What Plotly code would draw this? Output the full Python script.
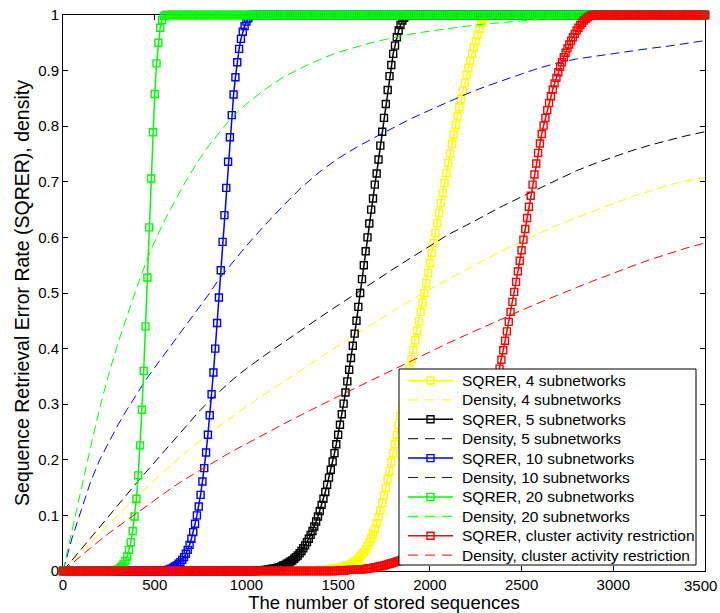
import plotly.graph_objects as go

# ---- data -------------------------------------------------------------------
# SQRER curves are sampled every 10 stored sequences over 0..3500.
STEP = 10
X_MAX = 3500

# Each rising section: first x of the rise and its values; the curve is 0 before
# the rise and 1 after it.
sqrer4_start = 1300
sqrer4_rise = [
    0.001, 0.001, 0.001, 0.001, 0.001, 0.001, 0.001, 0.001, 0.001, 0.001,
    0.002, 0.002, 0.002, 0.002, 0.003, 0.003, 0.003, 0.004, 0.004, 0.005,
    0.005, 0.006, 0.007, 0.008, 0.009, 0.010, 0.011, 0.013, 0.015, 0.017,
    0.019, 0.022, 0.026, 0.030, 0.034, 0.039, 0.045, 0.052, 0.059, 0.067,
    0.076, 0.086, 0.097, 0.109, 0.122, 0.136, 0.150, 0.165, 0.180, 0.196,
    0.212, 0.228, 0.245, 0.262, 0.279, 0.296, 0.313, 0.330, 0.347, 0.364,
    0.381, 0.398, 0.415, 0.432, 0.449, 0.466, 0.483, 0.500, 0.518, 0.536,
    0.554, 0.572, 0.590, 0.608, 0.626, 0.644, 0.662, 0.680, 0.698, 0.716,
    0.734, 0.751, 0.768, 0.785, 0.802, 0.818, 0.834, 0.849, 0.864, 0.878,
    0.892, 0.905, 0.918, 0.930, 0.942, 0.953, 0.964, 0.975, 0.985, 0.993,
    0.998,
]

sqrer5_start = 1060
sqrer5_rise = [
    0.001, 0.001, 0.001, 0.001, 0.002, 0.002, 0.003, 0.003, 0.004, 0.004,
    0.005, 0.006, 0.007, 0.008, 0.010, 0.011, 0.013, 0.015, 0.017, 0.019,
    0.022, 0.025, 0.028, 0.032, 0.036, 0.041, 0.046, 0.052, 0.058, 0.065,
    0.072, 0.080, 0.089, 0.098, 0.108, 0.119, 0.130, 0.142, 0.155, 0.168,
    0.182, 0.197, 0.212, 0.228, 0.245, 0.263, 0.282, 0.301, 0.321, 0.341,
    0.362, 0.383, 0.405, 0.427, 0.450, 0.475, 0.500, 0.525, 0.550, 0.575,
    0.600, 0.625, 0.650, 0.670, 0.695, 0.715, 0.740, 0.765, 0.790, 0.815,
    0.840, 0.865, 0.890, 0.910, 0.930, 0.945, 0.960, 0.972, 0.982, 0.990,
    0.995, 0.998,
]

sqrer10_start = 560
sqrer10_rise = [
    0.001, 0.002, 0.003, 0.004, 0.006, 0.008, 0.010, 0.013, 0.016, 0.020,
    0.025, 0.031, 0.038, 0.047, 0.058, 0.070, 0.085, 0.100, 0.116, 0.137,
    0.161, 0.185, 0.213, 0.245, 0.280, 0.318, 0.357, 0.400, 0.446, 0.492,
    0.541, 0.592, 0.640, 0.689, 0.736, 0.780, 0.820, 0.857, 0.888, 0.915,
    0.939, 0.957, 0.970, 0.980, 0.988, 0.994, 0.998,
]

sqrer20_start = 280
sqrer20_rise = [
    0.001, 0.002, 0.003, 0.005, 0.008, 0.012, 0.018, 0.026, 0.038, 0.052,
    0.072, 0.098, 0.130, 0.172, 0.226, 0.290, 0.360, 0.440, 0.528, 0.618,
    0.706, 0.789, 0.858, 0.913, 0.950, 0.977, 0.991, 0.998,
]

sqrer_car_start = 1500
sqrer_car_rise = [
    0.001, 0.001, 0.001, 0.001, 0.001, 0.002, 0.002, 0.002, 0.002, 0.002,
    0.003, 0.003, 0.003, 0.003, 0.003, 0.004, 0.004, 0.005, 0.005, 0.006,
    0.007, 0.007, 0.008, 0.009, 0.009, 0.010, 0.011, 0.012, 0.013, 0.014,
    0.015, 0.016, 0.017, 0.018, 0.019, 0.021, 0.022, 0.024, 0.025, 0.027,
    0.029, 0.031, 0.033, 0.035, 0.037, 0.040, 0.042, 0.045, 0.048, 0.051,
    0.054, 0.057, 0.061, 0.064, 0.068, 0.072, 0.076, 0.080, 0.085, 0.090,
    0.095, 0.100, 0.106, 0.112, 0.118, 0.124, 0.131, 0.138, 0.145, 0.152,
    0.160, 0.168, 0.176, 0.185, 0.194, 0.203, 0.213, 0.223, 0.233, 0.244,
    0.256, 0.268, 0.280, 0.293, 0.306, 0.320, 0.334, 0.349, 0.364, 0.380,
    0.397, 0.414, 0.431, 0.448, 0.466, 0.484, 0.502, 0.520, 0.539, 0.558,
    0.577, 0.596, 0.615, 0.635, 0.655, 0.675, 0.695, 0.713, 0.733, 0.752,
    0.769, 0.786, 0.801, 0.815, 0.829, 0.842, 0.854, 0.866, 0.877, 0.887,
    0.897, 0.907, 0.915, 0.924, 0.932, 0.940, 0.947, 0.954, 0.960, 0.966,
    0.972, 0.977, 0.982, 0.986, 0.990, 0.993, 0.996, 0.998, 0.999,
]

# Network density curves
density_x = [
    0, 50, 100, 150, 200, 250, 300, 350, 400, 450, 500, 550, 600, 650, 700,
    750, 800, 850, 900, 950, 1000, 1100, 1200, 1300, 1400, 1500, 1600, 1700,
    1800, 1900, 2000, 2100, 2200, 2300, 2400, 2500, 2600, 2700, 2800, 2900,
    3000, 3100, 3200, 3300, 3400, 3500,
]
density4 = [
    0.0, 0.017, 0.034, 0.051, 0.068, 0.085, 0.101, 0.117, 0.133, 0.149, 0.164,
    0.179, 0.194, 0.208, 0.222, 0.235, 0.248, 0.260, 0.272, 0.284, 0.296,
    0.318, 0.340, 0.362, 0.383, 0.405, 0.427, 0.447, 0.468, 0.488, 0.507,
    0.525, 0.543, 0.560, 0.577, 0.593, 0.608, 0.623, 0.636, 0.649, 0.661,
    0.673, 0.684, 0.694, 0.702, 0.708,
]
density5 = [
    0.0, 0.020, 0.040, 0.060, 0.080, 0.100, 0.120, 0.139, 0.158, 0.177, 0.196,
    0.214, 0.233, 0.252, 0.272, 0.290, 0.306, 0.322, 0.337, 0.351, 0.364,
    0.388, 0.411, 0.434, 0.456, 0.478, 0.500, 0.522, 0.543, 0.564, 0.585,
    0.605, 0.622, 0.640, 0.657, 0.673, 0.689, 0.704, 0.720, 0.733, 0.745,
    0.756, 0.766, 0.775, 0.783, 0.790,
]
density10 = [
    0.0, 0.060, 0.110, 0.160, 0.200, 0.233, 0.263, 0.291, 0.318, 0.343, 0.366,
    0.388, 0.410, 0.432, 0.455, 0.478, 0.500, 0.525, 0.545, 0.565, 0.585,
    0.622, 0.657, 0.690, 0.718, 0.742, 0.762, 0.780, 0.797, 0.814, 0.829,
    0.844, 0.858, 0.871, 0.883, 0.894, 0.905, 0.914, 0.921, 0.926, 0.931,
    0.936, 0.940, 0.944, 0.949, 0.954,
]
density20 = [
    0.0, 0.075, 0.148, 0.222, 0.293, 0.355, 0.410, 0.460, 0.508, 0.553, 0.593,
    0.628, 0.660, 0.690, 0.718, 0.744, 0.767, 0.788, 0.808, 0.825, 0.840,
    0.866, 0.888, 0.905, 0.920, 0.933, 0.943, 0.952, 0.959, 0.966, 0.971,
    0.976, 0.980, 0.984, 0.987, 0.990, 0.992, 0.993, 0.994, 0.995, 0.996,
    0.997, 0.998, 0.998, 0.999, 0.999,
]
density_car = [
    0.0, 0.014, 0.028, 0.042, 0.055, 0.068, 0.080, 0.092, 0.104, 0.116, 0.128,
    0.140, 0.151, 0.162, 0.172, 0.182, 0.192, 0.202, 0.211, 0.220, 0.229,
    0.247, 0.264, 0.281, 0.298, 0.314, 0.330, 0.346, 0.362, 0.379, 0.395,
    0.410, 0.425, 0.440, 0.455, 0.469, 0.483, 0.497, 0.510, 0.523, 0.536,
    0.548, 0.560, 0.571, 0.581, 0.590,
]

x_ticks = [0, 500, 1000, 1500, 2000, 2500, 3000, 3500]
x_tick_text = ["0", "500", "1000", "1500", "2000", "2500", "3000", "3500"]
y_ticks = [0, 0.1, 0.2, 0.3, 0.4, 0.5, 0.6, 0.7, 0.8, 0.9, 1]
y_tick_text = ["0", "0.1", "0.2", "0.3", "0.4", "0.5", "0.6", "0.7", "0.8", "0.9", "1"]

series = [
    ("4 subnetworks", "#ffff00", sqrer4_start, sqrer4_rise, density4),
    ("5 subnetworks", "#000000", sqrer5_start, sqrer5_rise, density5),
    ("10 subnetworks", "#0000ff", sqrer10_start, sqrer10_rise, density10),
    ("20 subnetworks", "#00ff00", sqrer20_start, sqrer20_rise, density20),
    ("cluster activity restriction", "#ff0000", sqrer_car_start, sqrer_car_rise, density_car),
]

# ---- figure -----------------------------------------------------------------
W, H = 720, 613
M_L, M_R, M_T, M_B = 63, 15, 15, 42
PLOT_W = W - M_L - M_R
PLOT_H = H - M_T - M_B

FONT = "Liberation Sans, Arial, Helvetica, sans-serif"
TICK_SIZE = 15
LEGEND_SIZE = 15.5
SQRER_WIDTH = 1.5
DENSITY_WIDTH = 1
DENSITY_DASH = "9px,5px"
MARKER_SIZE = 7
MARKER_LINE = 1.4

sqrer_x = list(range(0, X_MAX + 1, STEP))


def full_curve(start, rise):
    """Zero before the rise, the measured rise, then saturated at one."""
    n_before = start // STEP
    n_after = len(sqrer_x) - n_before - len(rise)
    return [0.0] * n_before + rise + [1.0] * n_after


fig = go.Figure()
for name, color, start, rise, dens in series:
    fig.add_trace(go.Scatter(
        x=sqrer_x, y=full_curve(start, rise),
        mode="lines+markers",
        name="SQRER, " + name,
        line=dict(color=color, width=SQRER_WIDTH),
        marker=dict(symbol="square-open", size=MARKER_SIZE, color=color,
                    line=dict(color=color, width=MARKER_LINE)),
        cliponaxis=False,
    ))
    fig.add_trace(go.Scatter(
        x=density_x, y=dens,
        mode="lines",
        name="Density, " + name,
        line=dict(color=color, width=DENSITY_WIDTH, dash=DENSITY_DASH),
        cliponaxis=False,
    ))


# ---- legend box (drawn in pixel units converted to paper coordinates) --------
def px_x(px):
    return (px - M_L) / PLOT_W


def px_y(py):
    return (H - M_B - py) / PLOT_H


LEG_LEFT, LEG_RIGHT, LEG_TOP, LEG_BOTTOM = 399, 696, 369, 565
ROW0, ROW_GAP = 380.5, 19.4
SAMPLE_X0, SAMPLE_X1, TEXT_X = 408, 453, 460
SAMPLE_MID = (SAMPLE_X0 + SAMPLE_X1) / 2

shapes = [dict(type="rect", xref="paper", yref="paper",
               x0=px_x(LEG_LEFT), x1=px_x(LEG_RIGHT),
               y0=px_y(LEG_BOTTOM), y1=px_y(LEG_TOP),
               line=dict(color="black", width=1), fillcolor="white", layer="above")]
annotations = []
row = 0
for name, color, *_ in series:
    for kind in ("SQRER", "Density"):
        cy = ROW0 + ROW_GAP * row
        line = dict(color=color, width=SQRER_WIDTH if kind == "SQRER" else DENSITY_WIDTH)
        if kind == "Density":
            line["dash"] = "10px,7px"
        shapes.append(dict(type="line", xref="paper", yref="paper",
                           x0=px_x(SAMPLE_X0), x1=px_x(SAMPLE_X1),
                           y0=px_y(cy), y1=px_y(cy), line=line, layer="above"))
        if kind == "SQRER":
            half = MARKER_SIZE / 2
            shapes.append(dict(type="rect", xref="paper", yref="paper",
                               x0=px_x(SAMPLE_MID - half), x1=px_x(SAMPLE_MID + half),
                               y0=px_y(cy + half), y1=px_y(cy - half),
                               line=dict(color=color, width=MARKER_LINE),
                               fillcolor="rgba(0,0,0,0)", layer="above"))
        annotations.append(dict(xref="paper", yref="paper",
                                x=px_x(TEXT_X), y=px_y(cy),
                                xanchor="left", yanchor="middle",
                                text=f"{kind}, {name}", showarrow=False,
                                font=dict(family=FONT, size=LEGEND_SIZE, color="black")))
        row += 1

# The last x tick label sits at the right edge of the page, so it is kept
# inside the page by right-aligning it there instead of centring it on its tick.
last_label = x_tick_text[-1]
annotations.append(dict(xref="paper", yref="paper",
                        x=px_x(W - 1), y=px_y(H - M_B + 4),
                        xanchor="right", yanchor="top",
                        text=last_label, showarrow=False,
                        font=dict(family=FONT, size=TICK_SIZE, color="black")))

axis_common = dict(
    showline=True, linecolor="black", linewidth=1, mirror="ticks",
    ticks="inside", ticklen=5, tickwidth=1, tickcolor="black",
    showgrid=False, zeroline=False, layer="below traces", automargin=False,
    tickfont=dict(family=FONT, size=TICK_SIZE, color="black"),
)

fig.update_layout(
    width=W, height=H,
    margin=dict(l=M_L, r=M_R, t=M_T, b=M_B, autoexpand=False),
    paper_bgcolor="white", plot_bgcolor="white",
    font=dict(family=FONT, size=15, color="black"),
    xaxis=dict(range=[0, X_MAX], tickvals=x_ticks,
               ticktext=x_tick_text[:-1] + [""],
               title=dict(text="The number of stored sequences",
                          font=dict(family=FONT, size=18.5), standoff=2),
               **axis_common),
    yaxis=dict(range=[0, 1], tickvals=y_ticks, ticktext=y_tick_text,
               title=dict(text="Sequence Retrieval Error Rate (SQRER), density",
                          font=dict(family=FONT, size=19.5), standoff=3),
               **axis_common),
    showlegend=False,
    shapes=shapes,
    annotations=annotations,
)

fig.write_html("out.html")
